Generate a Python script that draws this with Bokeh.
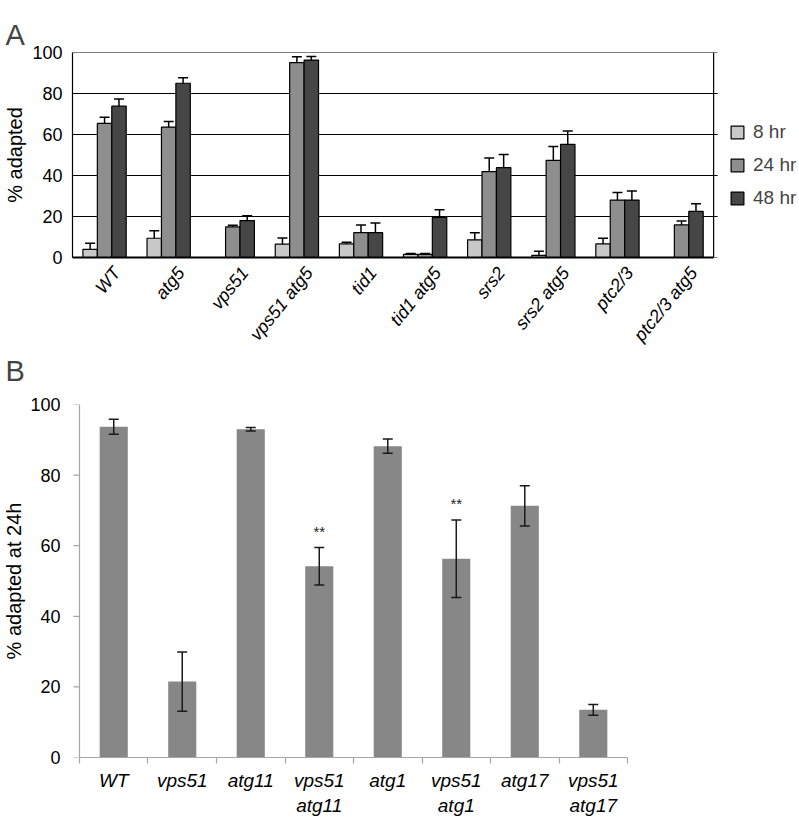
import numpy as np
from bokeh.plotting import figure
from bokeh.layouts import column
from bokeh.models import (ColumnDataSource, Range1d, Whisker, TeeHead,
                          Legend, LegendItem, FixedTicker, Title)
from bokeh.core.properties import value
from bokeh.embed import file_html
from bokeh.resources import INLINE

FONT = "Liberation Sans"

# --- panel A: % adapted after 8, 24, 48 hr ---
strains_a = ["WT", "atg5", "vps51", "vps51 atg5", "tid1", "tid1 atg5",
             "srs2", "srs2 atg5", "ptc2/3", "ptc2/3 atg5"]
adapt_8hr = [4.0, 9.4, 0.0, 6.5, 6.6, 1.5, 8.6, 1.0, 6.6, 0.0]
err_8hr = [3.0, 3.7, 0.0, 3.0, 0.8, 0.5, 3.5, 2.0, 2.8, 0.0]
adapt_24hr = [65.4, 63.6, 14.9, 95.1, 12.1, 1.5, 41.9, 47.4, 28.0, 15.9]
err_24hr = [3.0, 2.7, 0.8, 2.8, 3.8, 0.5, 6.6, 6.8, 3.7, 1.9]
adapt_48hr = [73.8, 85.0, 18.0, 96.3, 12.1, 19.6, 43.8, 55.2, 28.0, 22.5]
err_48hr = [3.5, 2.7, 2.4, 1.7, 4.7, 3.7, 6.5, 6.5, 4.5, 3.7]
series_names = ["8 hr", "24 hr", "48 hr"]
y_ticks = [0, 20, 40, 60, 80, 100]

# --- panel B: % adapted at 24h ---
strains_b = ["WT", "vps51", "atg11", "vps51\natg11", "atg1", "vps51\natg1",
             "atg17", "vps51\natg17"]
adapt_b = [93.7, 21.5, 93.0, 54.2, 88.2, 56.3, 71.3, 13.5]
err_b = [2.1, 8.4, 0.5, 5.3, 2.0, 11.0, 5.7, 1.5]
signif_b = ["", "", "", "**", "", "**", "", ""]

W = 799
BORDER_L = 71
FRAME_W = W - BORDER_L          # both frames run to the right edge of the page


def panel_letter(text, line_height=1.0):
    return Title(text=text, text_font=FONT, text_font_size="29px",
                 text_font_style="normal", align="left", offset=-67,
                 vertical_align="top", standoff=0, text_line_height=line_height)


# ---------------- panel A ----------------
n_a = len(strains_a)
px_a = 64.2                      # pixels per strain group
x_a = np.arange(n_a) + 0.5
pa = figure(x_range=Range1d(0, FRAME_W / px_a), y_range=Range1d(0, 100),
            width=W, height=388, output_backend="svg", toolbar_location=None,
            min_border_left=BORDER_L, min_border_right=0, min_border_top=52,
            min_border_bottom=130)
pa.title = panel_letter("A", 1.3)
pa.outline_line_color = None
pa.grid.grid_line_color = None

# box and horizontal rules (they poke a little past the right edge, like ticks)
tick_ext = 4 / px_a
pa.segment(x0=0, x1=n_a + tick_ext, y0=y_ticks, y1=y_ticks,
           line_color="black", line_width=1.2)
pa.segment(x0=[n_a], x1=[n_a], y0=[0], y1=[100], line_color="black", line_width=1.2)

colors = ["#c8c8c8", "#8e8e8e", "#464646"]
offsets = [-0.225, 0.0, 0.225]
vals_all = [adapt_8hr, adapt_24hr, adapt_48hr]
errs_all = [err_8hr, err_24hr, err_48hr]
items = []
for name, col, off, vals, errs in zip(series_names, colors, offsets, vals_all, errs_all):
    src = ColumnDataSource(dict(x=x_a + off, top=vals))
    r = pa.vbar(x="x", top="top", width=0.225, source=src,
                fill_color=col, line_color="black", line_width=1.2)
    items.append(LegendItem(label=name, renderers=[r]))
    keep = [i for i in range(len(vals)) if errs[i] > 0]
    esrc = ColumnDataSource(dict(x=[x_a[i] + off for i in keep],
                                 lo=[vals[i] for i in keep],
                                 hi=[vals[i] + errs[i] for i in keep]))
    pa.add_layout(Whisker(base="x", lower="lo", upper="hi", source=esrc, lower_head=None,
                          upper_head=TeeHead(size=10, line_width=1.5, line_color="black"),
                          line_width=1.5, line_color="black", level="overlay"))

legend = Legend(items=items, location=(657, 48), glyph_width=16, glyph_height=16,
                label_standoff=8, label_height=22, spacing=11, padding=0, margin=0,
                border_line_color=None, background_fill_alpha=0,
                label_text_font=FONT, label_text_font_size="19px")
pa.add_layout(legend)

pa.yaxis.ticker = FixedTicker(ticks=y_ticks)
pa.yaxis.major_tick_out = 0
pa.yaxis.major_tick_in = 0
pa.yaxis.minor_tick_line_color = None
pa.yaxis.major_label_standoff = 10
pa.yaxis.axis_line_color = "black"
pa.yaxis.axis_line_width = 1.2
pa.yaxis.major_label_text_font = FONT
pa.yaxis.major_label_text_font_size = "18px"
pa.yaxis.major_label_text_color = "black"
pa.yaxis.axis_label = "% adapted"
pa.yaxis.axis_label_text_font = FONT
pa.yaxis.axis_label_text_font_size = "20px"
pa.yaxis.axis_label_text_font_style = "normal"
pa.yaxis.axis_label_text_color = "black"
pa.yaxis.axis_label_standoff = 3

label_pos_a = x_a + 0.19
pa.xaxis.bounds = (0, n_a)
pa.xaxis.ticker = FixedTicker(ticks=list(label_pos_a))
pa.xaxis.major_label_overrides = {float(x): s for x, s in zip(label_pos_a, strains_a)}
pa.xaxis.axis_line_color = "black"
pa.xaxis.axis_line_width = 1.8
pa.xaxis.major_tick_line_color = None
pa.xaxis.minor_tick_line_color = None
pa.xaxis.major_tick_out = 0
pa.xaxis.major_label_orientation = 51 * np.pi / 180
pa.xaxis.major_label_standoff = 12
pa.xaxis.major_label_text_font = FONT
pa.xaxis.major_label_text_font_size = "18px"
pa.xaxis.major_label_text_font_style = "italic"
pa.xaxis.major_label_text_color = "black"

# the "B" panel letter sits in the strip under panel A's labels
pa.add_layout(panel_letter("B"), "below")

# ---------------- panel B ----------------
n_b = len(strains_b)
px_b = 68.6                      # pixels per strain
x_b = np.arange(n_b) + 0.5
x_start_b = -7 / px_b            # y axis sits 7 px right of panel A's
pb = figure(x_range=Range1d(x_start_b, x_start_b + FRAME_W / px_b), y_range=Range1d(0, 100),
            width=W, height=430, output_backend="svg", toolbar_location=None,
            min_border_left=BORDER_L, min_border_right=0, min_border_top=16,
            min_border_bottom=60)
pb.outline_line_color = None
pb.grid.grid_line_color = None

AX_GREY = "#a6a6a6"
# y axis line and its outward ticks, drawn at x = 0
pb.segment(x0=[0], x1=[0], y0=[0], y1=[100], line_color=AX_GREY, line_width=1.2)
pb.segment(x0=0, x1=-6 / px_b, y0=y_ticks, y1=y_ticks, line_color=AX_GREY, line_width=1.2)

src_b = ColumnDataSource(dict(x=x_b, top=adapt_b,
                              lo=[v - e for v, e in zip(adapt_b, err_b)],
                              hi=[v + e for v, e in zip(adapt_b, err_b)]))
pb.vbar(x="x", top="top", width=0.41, source=src_b, fill_color="#878787", line_color=None)
pb.add_layout(Whisker(base="x", lower="lo", upper="hi", source=src_b,
                      lower_head=TeeHead(size=10, line_width=1.5, line_color="#1a1a1a"),
                      upper_head=TeeHead(size=10, line_width=1.5, line_color="#1a1a1a"),
                      line_width=1.5, line_color="#1a1a1a", level="overlay"))

star_idx = [i for i, s in enumerate(signif_b) if s]
star_src = ColumnDataSource(dict(x=[x_b[i] for i in star_idx],
                                 y=[adapt_b[i] + err_b[i] for i in star_idx],
                                 t=[signif_b[i] for i in star_idx]))
pb.text(x="x", y="y", text="t", source=star_src, text_font=value(FONT),
        text_font_size="15px", text_align="center", text_baseline="alphabetic",
        y_offset=-16, text_color="#1a1a1a")

pb.yaxis.ticker = FixedTicker(ticks=y_ticks)
pb.yaxis.axis_line_color = None
pb.yaxis.major_tick_line_color = None
pb.yaxis.minor_tick_line_color = None
pb.yaxis.major_tick_out = 0
pb.yaxis.major_tick_in = 0
pb.yaxis.major_label_standoff = 12
pb.yaxis.major_label_text_font = FONT
pb.yaxis.major_label_text_font_size = "18px"
pb.yaxis.major_label_text_color = "black"
pb.yaxis.axis_label = "% adapted at 24h"
pb.yaxis.axis_label_text_font = FONT
pb.yaxis.axis_label_text_font_size = "20px"
pb.yaxis.axis_label_text_font_style = "normal"
pb.yaxis.axis_label_text_color = "black"
pb.yaxis.axis_label_standoff = 2

pb.xaxis.bounds = (0, n_b)
pb.xaxis.ticker = FixedTicker(ticks=list(x_b), minor_ticks=list(range(n_b + 1)))
pb.xaxis.major_label_overrides = {float(x): s for x, s in zip(x_b, strains_b)}
pb.xaxis.major_tick_line_color = None
pb.xaxis.major_tick_out = 0
pb.xaxis.major_tick_in = 0
pb.xaxis.minor_tick_out = 6
pb.xaxis.minor_tick_in = 0
pb.xaxis.minor_tick_line_color = AX_GREY
pb.xaxis.minor_tick_line_width = 1.2
pb.xaxis.axis_line_color = AX_GREY
pb.xaxis.axis_line_width = 1.2
pb.xaxis.major_label_standoff = 6
pb.xaxis.major_label_text_font = FONT
pb.xaxis.major_label_text_font_size = "19px"
pb.xaxis.major_label_text_font_style = "italic"
pb.xaxis.major_label_text_color = "black"

layout = column(pa, pb)
open("out.html", "w").write(file_html(layout, INLINE))
